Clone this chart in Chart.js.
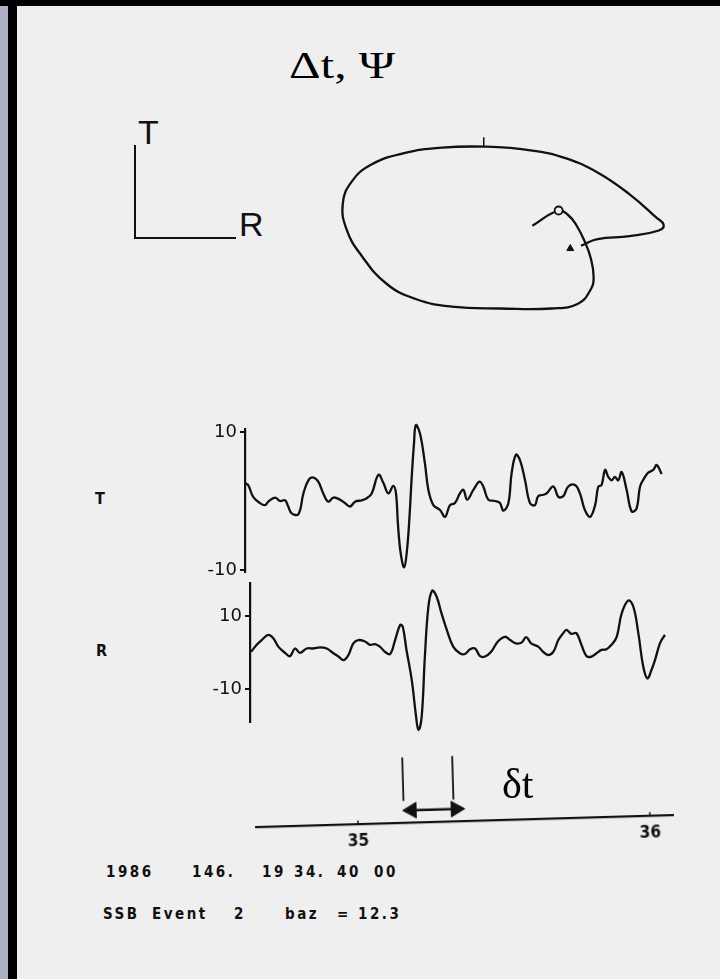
<!DOCTYPE html>
<html>
<head>
<meta charset="utf-8">
<script src="https://cdn.jsdelivr.net/npm/chart.js@4.4.1/dist/chart.umd.min.js"></script>
<style>
html, body { margin: 0; padding: 0; }
body { width: 720px; height: 979px; position: relative; overflow: hidden; background: #efefef; color: #111; }
.abs { position: absolute; }
.txt { position: absolute; white-space: nowrap; line-height: 1; }
#topBar { left: 0; top: 0; width: 720px; height: 6px; background: #000; }
#lav { left: 0; top: 6px; width: 8px; height: 973px; background: #adb0c5; }
#blk { left: 8px; top: 0; width: 9px; height: 979px; background: #000; }
#title { left: 289px; top: 46px; font-family: "Liberation Serif", serif; font-size: 38px; color: #000; transform-origin: 0 0; }
#lIcon { left: 134px; top: 145px; width: 102px; height: 94px; box-sizing: border-box; border-left: 2.5px solid #111; border-bottom: 2.5px solid #111; }
.iconLbl { font-family: "Liberation Sans", sans-serif; font-size: 34px; }
.trLbl { font-family: "DejaVu Sans Condensed", "DejaVu Sans", sans-serif; font-weight: bold; font-size: 16px; }
#dt { left: 502px; top: 763px; font-family: "Liberation Serif", serif; font-size: 42px; color: #000; }
.info { font-family: "DejaVu Sans Condensed", "DejaVu Sans", sans-serif; font-weight: bold; font-size: 15px; letter-spacing: 2.5px; }
canvas { position: absolute; }
#hodo { left: 300px; top: 100px; }
#traceT { left: 199px; top: 413px; }
#traceR { left: 204px; top: 567px; }
#timeAxis { left: 236px; top: 740px; transform: rotate(-1.65deg); transform-origin: 228.5px 81px; }
</style>
</head>
<body>
<div id="topBar" class="abs"></div>
<div id="lav" class="abs"></div>
<div id="blk" class="abs"></div>

<div id="title" class="txt">Δt, Ψ</div>
<div id="lIcon" class="abs"></div>
<div class="txt iconLbl" style="left:138px; top:115px;">T</div>
<div class="txt iconLbl" style="left:239px; top:207px;">R</div>

<canvas id="hodo" width="420" height="240"></canvas>

<div class="txt trLbl" style="left:95px; top:491px;">T</div>
<div class="txt trLbl" style="left:96px; top:643px;">R</div>
<canvas id="traceT" width="481" height="175"></canvas>
<canvas id="traceR" width="476" height="171"></canvas>

<canvas id="timeAxis" width="457" height="111"></canvas>
<div id="dt" class="txt">δt</div>

<div class="txt info" style="left:106px; top:865px;">1986</div>
<div class="txt info" style="left:192px; top:865px;">146.</div>
<div class="txt info" style="left:262px; top:865px;">19</div>
<div class="txt info" style="left:294px; top:865px;">34.</div>
<div class="txt info" style="left:337px; top:865px;">40</div>
<div class="txt info" style="left:374px; top:865px;">00</div>

<div class="txt info" style="left:103px; top:907px;">SSB</div>
<div class="txt info" style="left:152px; top:907px;">Event</div>
<div class="txt info" style="left:234px; top:907px;">2</div>
<div class="txt info" style="left:285px; top:907px;">baz</div>
<div class="txt info" style="left:337px; top:907px;">=</div>
<div class="txt info" style="left:358px; top:907px;">12.3</div>

<script>
// transverse trace: time (s after 19:34) and amplitude
const tTime = [34.613, 34.624, 34.641, 34.664, 34.682, 34.693, 34.716, 34.733, 34.750, 34.761,
    34.773, 34.796, 34.813, 34.830, 34.847, 34.864, 34.881, 34.898, 34.916, 34.938,
    34.955, 34.973, 34.990, 35.013, 35.030, 35.047, 35.070, 35.087, 35.104, 35.121,
    35.130, 35.137, 35.146, 35.158, 35.168, 35.176, 35.184, 35.192, 35.198, 35.212,
    35.229, 35.241, 35.258, 35.281, 35.298, 35.315, 35.332, 35.349, 35.361, 35.374,
    35.395, 35.416, 35.429, 35.446, 35.469, 35.486, 35.498, 35.515, 35.526, 35.541,
    35.555, 35.572, 35.589, 35.606, 35.617, 35.635, 35.646, 35.669, 35.686, 35.703,
    35.720, 35.743, 35.760, 35.777, 35.795, 35.812, 35.823, 35.834, 35.846, 35.857,
    35.869, 35.880, 35.891, 35.903, 35.920, 35.937, 35.954, 35.966, 35.983, 35.994,
    36.011, 36.023, 36.040];
const tAmp = [2.6, 2.3, 0.6, -0.3, -0.6, -0.1, 0.5, 0.0, 0.1, -0.8,
    -1.8, -1.9, 1.1, 3.0, 3.4, 2.8, 1.1, -0.1, 0.5, 0.2,
    -0.3, -0.8, -0.1, 0.1, 0.4, 1.1, 3.8, 2.6, 1.1, 2.2,
    1.1, -3.5, -7.5, -9.6, -7.0, -2.5, 3.5, 8.5, 11.0, 9.8,
    5.5, 1.6, -0.6, -1.3, -2.3, -0.6, -0.3, 1.1, 1.6, 0.2,
    1.6, 2.8, 2.1, 0.2, 0.0, -0.3, -1.4, -0.3, 4.0, 6.7,
    5.9, 3.0, -0.3, -0.6, 0.7, 0.9, 1.1, 2.1, 0.6, 0.7,
    2.1, 2.3, 1.1, -1.3, -2.3, -0.6, 2.1, 2.3, 4.5, 3.5,
    3.0, 3.5, 3.0, 4.2, 1.6, -1.5, -1.1, 2.1, 3.5, 4.1,
    4.5, 5.2, 3.9];

// radial trace
const rTime = [34.634, 34.653, 34.670, 34.693, 34.710, 34.727, 34.750, 34.767, 34.784, 34.801,
    34.824, 34.847, 34.870, 34.893, 34.916, 34.933, 34.950, 34.967, 34.984, 35.001,
    35.024, 35.041, 35.058, 35.075, 35.092, 35.110, 35.127, 35.144, 35.153, 35.166,
    35.184, 35.199, 35.207, 35.218, 35.229, 35.241, 35.254, 35.269, 35.286, 35.304,
    35.326, 35.349, 35.366, 35.384, 35.401, 35.418, 35.435, 35.456, 35.479, 35.503,
    35.521, 35.541, 35.560, 35.576, 35.593, 35.617, 35.634, 35.651, 35.669, 35.686,
    35.703, 35.714, 35.731, 35.748, 35.765, 35.783, 35.800, 35.817, 35.834, 35.851,
    35.868, 35.886, 35.903, 35.926, 35.943, 35.960, 35.977, 35.991, 36.005, 36.017,
    36.034, 36.051];
const rAmp = [0.2, 2.1, 3.4, 4.8, 3.9, 1.6, -0.1, -1.0, 1.1, -0.1,
    1.1, 1.1, 1.4, 1.1, -0.2, -1.1, -2.1, -0.7, 2.5, 3.4,
    3.0, 2.1, 2.3, 1.6, 0.2, -0.4, 3.4, 7.5, 7.1, 0.7,
    -7.5, -17.6, -21.2, -17.6, -1.1, 12.5, 16.9, 15.3, 10.7, 6.2,
    1.6, -0.2, -0.4, 0.9, 1.1, -1.0, -1.1, 0.2, 3.0, 4.3,
    3.4, 2.5, 2.7, 4.2, 2.5, 1.6, 0.2, -0.7, 0.2, 3.4,
    5.3, 6.2, 5.1, 5.3, 2.1, -1.0, -1.1, -0.2, 0.7, 0.9,
    2.1, 4.3, 10.7, 14.2, 12.5, 5.3, -3.9, -7.1, -4.8, -2.1,
    2.5, 4.8];

// particle motion (R horizontal, T vertical)
const hodoR = [5.3, 8.0, 9.0, 9.8, 10.7, 11.3, 11.6, 11.3, 10.0, 7.3,
    2.0, -3.0, -6.7, -9.7, -12.3, -13.8, -14.2, -13.3, -11.3, -8.0,
    -4.0, 0.5, 5.3, 8.7, 12.0, 15.3, 18.0, 18.8, 18.3, 15.3,
    12.0, 10.3];
const hodoT = [0.4, 2.0, 1.5, 0.5, -1.3, -3.0, -5.0, -6.3, -7.8, -8.3,
    -8.3, -8.1, -7.3, -5.7, -2.7, 0.0, 2.7, 5.0, 6.8, 8.0,
    8.6, 8.7, 8.3, 7.5, 6.0, 3.7, 1.3, 0.5, -0.1, -0.7,
    -1.0, -1.7];
const hodoStart = [8.0, 2.0];
const hodoEnd = [9.2, -2.0];
const hodoTickR = [0.3, 0.3];
const hodoTickT = [8.7, 9.7];

const ampTicks = [-10, 10];
const timeTicks = [35, 36];

// delta-t picks and arrow
const pickTimes = [35.158, 35.329];
const pickSpan = [0.307, 0.92];
const arrowTimes = [35.185, 35.336];
const arrowLevel = 0.173;

const black = '#111';

function pairs(xs, ys) {
    return xs.map((x, i) => ({ x: x, y: ys[i] }));
}

const common = {
    responsive: false,
    animation: false,
    events: [],
    plugins: { legend: { display: false }, tooltip: { enabled: false } }
};

// Particle motion plot
new Chart(document.getElementById('hodo'), {
    type: 'scatter',
    data: {
        datasets: [
            { data: pairs(hodoR, hodoT), showLine: true, borderColor: black, borderWidth: 2.3,
              pointRadius: 0, tension: 0.45, capBezierPoints: false },
            { data: pairs(hodoTickR, hodoTickT), showLine: true, borderColor: black, borderWidth: 1.5, pointRadius: 0 },
            { data: [{ x: hodoStart[0], y: hodoStart[1] }], order: -1, pointStyle: 'circle', pointRadius: 4,
              pointBorderWidth: 1.8, pointBorderColor: black, pointBackgroundColor: '#efefef' },
            { data: [{ x: hodoEnd[0], y: hodoEnd[1] }], order: -1, pointStyle: 'triangle', pointRadius: 4,
              pointBorderWidth: 1, pointBorderColor: black, pointBackgroundColor: black }
        ]
    },
    options: Object.assign({}, common, {
        layout: { padding: 0 },
        scales: {
            x: { type: 'linear', display: false, min: -18, max: 24 },
            y: { type: 'linear', display: false, min: -11, max: 13 }
        }
    })
});

// Amplitude axis shared by both traces
function ampAxis(min, max) {
    return {
        type: 'linear', position: 'left', min: min, max: max,
        afterFit: function(scale) { scale.width = 46; },
        afterBuildTicks: function(scale) { scale.ticks = ampTicks.map(v => ({ value: v })); },
        ticks: { color: black, font: { family: 'DejaVu Sans', size: 18 }, padding: 3, callback: v => String(v) },
        grid: { drawOnChartArea: false, drawTicks: true, tickLength: 5, color: black, lineWidth: 2 },
        border: { display: true, color: black, width: 2.2 }
    };
}

function traceChart(id, xs, ys, xMin, xMax, yMin, yMax) {
    return new Chart(document.getElementById(id), {
        type: 'scatter',
        data: {
            datasets: [{
                data: pairs(xs, ys), showLine: true, borderColor: black, borderWidth: 2.3,
                pointRadius: 0, tension: 0.4, capBezierPoints: false, clip: false
            }]
        },
        options: Object.assign({}, common, {
            layout: { padding: { top: 16, bottom: 16, left: 0, right: 0 } },
            scales: {
                x: { type: 'linear', display: false, min: xMin, max: xMax },
                y: ampAxis(yMin, yMax)
            }
        })
    });
}

traceChart('traceT', tTime, tAmp, 34.6130, 36.1027, -10.29, 10.43);
traceChart('traceR', rTime, rAmp, 34.6301, 36.1027, -19.0, 19.0);

// Time axis with the delta-t annotation
const tickMarks = [];
timeTicks.forEach(v => {
    tickMarks.push({ x: v, y: 0 }, { x: v, y: 0.05 }, { x: v, y: null });
});

new Chart(document.getElementById('timeAxis'), {
    type: 'scatter',
    data: {
        datasets: pickTimes.map(t => ({
            data: [{ x: t, y: pickSpan[0] }, { x: t, y: pickSpan[1] }],
            showLine: true, borderColor: black, borderWidth: 1.8, pointRadius: 0
        })).concat([
            { data: arrowTimes.map(t => ({ x: t, y: arrowLevel })), showLine: true, borderColor: black,
              borderWidth: 2.6, pointStyle: 'triangle', pointRadius: 9, pointRotation: [-90, 90],
              pointBackgroundColor: black, pointBorderColor: black, pointBorderWidth: 1 },
            { data: tickMarks, showLine: true, borderColor: black, borderWidth: 1.5, pointRadius: 0 }
        ])
    },
    options: Object.assign({}, common, {
        layout: { padding: { left: 20, right: 20, top: 6, bottom: 0 } },
        scales: {
            x: {
                type: 'linear', position: 'bottom', min: 34.6507, max: 36.0788,
                afterFit: function(scale) { scale.height = 30; },
                afterBuildTicks: function(scale) { scale.ticks = timeTicks.map(v => ({ value: v })); },
                ticks: { color: black, font: { family: 'DejaVu Sans Condensed', size: 17, weight: 'bold' },
                         padding: 7, callback: v => String(v) },
                grid: { drawOnChartArea: false, drawTicks: false },
                border: { display: true, color: black, width: 2.2 }
            },
            y: { type: 'linear', display: false, min: 0, max: 1 }
        }
    })
});

// stretch the title to the width it has in the scan
const title = document.getElementById('title');
const titleWidth = title.getBoundingClientRect().width;
title.style.transform = 'scaleX(' + (106 / titleWidth).toFixed(3) + ')';
</script>
</body>
</html>
